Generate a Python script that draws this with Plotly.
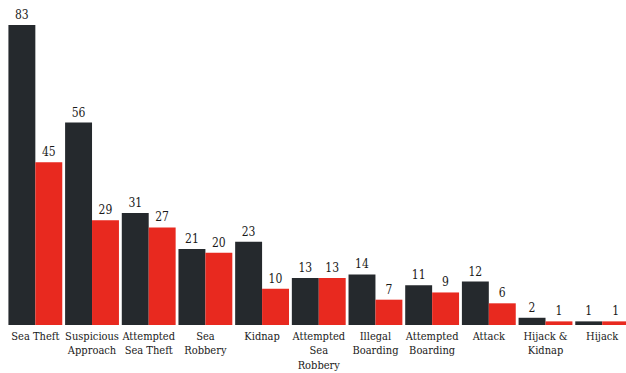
import plotly.graph_objects as go

categories = [
    "Sea Theft", "Suspicious<br>Approach", "Attempted<br>Sea Theft", "Sea<br>Robbery",
    "Kidnap", "Attempted<br>Sea<br>Robbery", "Illegal<br>Boarding", "Attempted<br>Boarding",
    "Attack", "Hijack &amp;<br>Kidnap", "Hijack",
]
series_dark = [83, 56, 31, 21, 23, 13, 14, 11, 12, 2, 1]
series_red = [45, 29, 27, 20, 10, 13, 7, 9, 6, 1, 1]

DARK = "#25292d"
RED = "#e8291f"
FONT = "'DejaVu Serif Condensed', 'DejaVu Serif', serif"
TEXT = "#1a1a1a"

fig = go.Figure()
for name, vals, color in [("Series 1", series_dark, DARK), ("Series 2", series_red, RED)]:
    fig.add_trace(go.Bar(
        x=categories, y=vals, name=name,
        marker=dict(color=color, line=dict(width=0)),
        text=[str(v) for v in vals], textposition="outside",
        textfont=dict(family=FONT, size=12, color=TEXT),
        cliponaxis=False,
    ))

fig.update_layout(
    width=626, height=373,
    margin=dict(l=7, r=0, t=0, b=48, autoexpand=False),
    barmode="group", bargap=0.05, bargroupgap=0,
    showlegend=False,
    plot_bgcolor="white", paper_bgcolor="white",
    font=dict(family=FONT, size=11, color=TEXT),
)
fig.update_xaxes(
    range=[-0.5, 10.42], showgrid=False, showline=False, ticks="",
    tickangle=0, automargin=False, ticklabelstandoff=3,
    tickfont=dict(family=FONT, size=11, color=TEXT),
)
fig.update_yaxes(range=[0, 89.9], visible=False)

fig.write_html("out.html")
